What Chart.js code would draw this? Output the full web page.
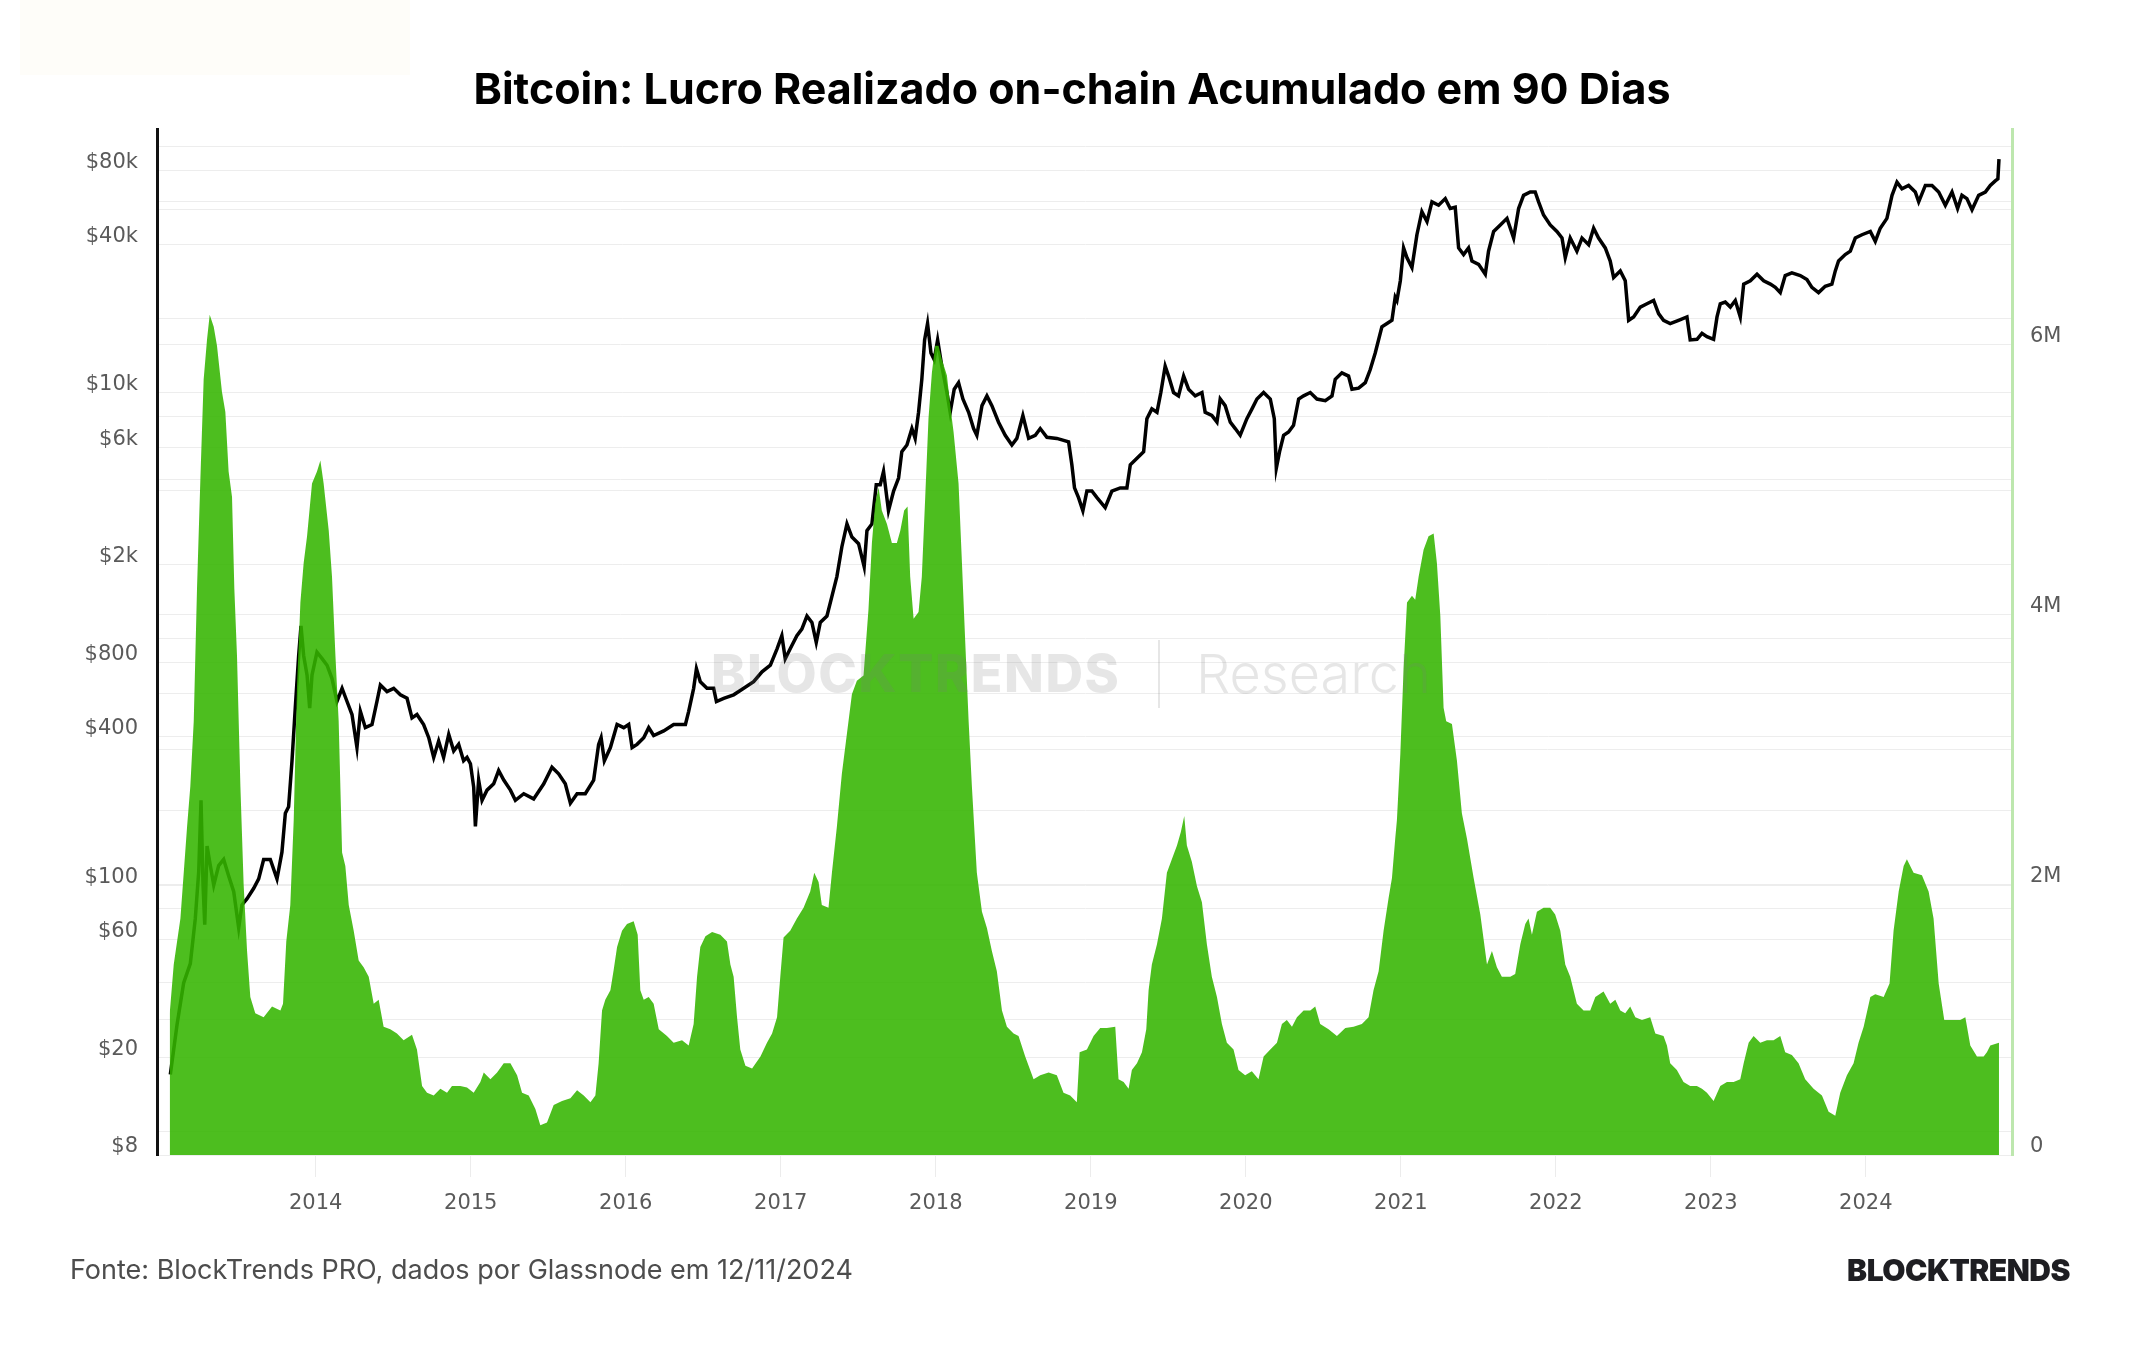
<!DOCTYPE html>
<html>
<head>
<meta charset="utf-8">
<script src="https://cdn.jsdelivr.net/npm/chart.js@4.4.1/dist/chart.umd.min.js"></script>
<style>
html,body{margin:0;padding:0;background:#fff;}
#wrap{position:relative;width:2144px;height:1350px;overflow:hidden;background:#fff;}
#tint{position:absolute;left:20px;top:0;width:390px;height:75px;background:#fefdf9;}
#c{position:absolute;left:0;top:0;}
.wm{position:absolute;color:rgba(120,120,120,0.19);pointer-events:none;white-space:nowrap;font-family:Inter,"Noto Sans",sans-serif;line-height:60px;}
#wm1{left:711px;top:644px;font-size:52px;font-weight:800;letter-spacing:1.5px;}
#wmbar{position:absolute;left:1158px;top:640px;width:2px;height:68px;background:rgba(120,120,120,0.19);}
#wm2{left:1196px;top:644px;font-size:54px;font-weight:300;}
#foot{position:absolute;left:70px;top:1254px;font-family:Inter,"Noto Sans",sans-serif;font-size:27px;color:#4d4d4d;line-height:32px;white-space:nowrap;}
#brand{position:absolute;right:74px;top:1254px;font-family:Inter,"Noto Sans",sans-serif;font-size:30px;font-weight:900;color:#1e1e22;line-height:32px;letter-spacing:-0.5px;white-space:nowrap;}
</style>
</head>
<body>
<div id="wrap">
<div id="tint"></div>
<canvas id="c" width="2144" height="1350"></canvas>
<div class="wm" id="wm1">BLOCKTRENDS</div>
<div id="wmbar"></div>
<div class="wm" id="wm2">Research</div>
<div id="foot">Fonte: BlockTrends PRO, dados por Glassnode em 12/11/2024</div>
<div id="brand">BLOCKTRENDS</div>
</div>
<script>
const chartTitle = 'Bitcoin: Lucro Realizado on-chain Acumulado em 90 Dias';
const yearTicks = [2014,2015,2016,2017,2018,2019,2020,2021,2022,2023,2024];
const priceTickValues = [8,10,20,40,60,80,100,200,400,600,800,1000,2000,4000,6000,8000,10000,20000,40000,60000,80000,100000];
const priceTickLabels = {8:'$8',20:'$20',60:'$60',100:'$100',400:'$400',800:'$800',2000:'$2k',6000:'$6k',10000:'$10k',40000:'$40k',80000:'$80k'};
const profitTickValues = [0,1,2,3,4,5,6,7];
const profitTickLabels = {0:'0',2:'2M',4:'4M',6:'6M'};

// BTC price (USD), decimal year
const priceYears = [2013.062,2013.105,2013.148,2013.191,2013.223,2013.245,2013.260,2013.273,2013.284,2013.299,2013.320,2013.342,2013.374,2013.406,2013.438,2013.471,2013.503,2013.524,2013.557,2013.600,2013.632,2013.664,2013.707,2013.750,2013.782,2013.804,2013.825,2013.847,2013.868,2013.890,2013.905,2013.922,2013.944,2013.961,2013.976,2014.008,2014.041,2014.073,2014.105,2014.137,2014.170,2014.202,2014.234,2014.266,2014.288,2014.320,2014.363,2014.395,2014.417,2014.460,2014.503,2014.546,2014.589,2014.621,2014.653,2014.696,2014.729,2014.761,2014.793,2014.825,2014.858,2014.890,2014.922,2014.954,2014.976,2014.998,2015.019,2015.030,2015.051,2015.073,2015.105,2015.148,2015.180,2015.213,2015.256,2015.288,2015.342,2015.406,2015.471,2015.524,2015.567,2015.610,2015.643,2015.686,2015.739,2015.793,2015.825,2015.841,2015.862,2015.901,2015.944,2015.987,2016.019,2016.041,2016.073,2016.116,2016.148,2016.180,2016.245,2016.309,2016.385,2016.406,2016.438,2016.456,2016.481,2016.524,2016.567,2016.585,2016.632,2016.696,2016.761,2016.825,2016.879,2016.933,2016.976,2017.007,2017.029,2017.061,2017.104,2017.136,2017.169,2017.201,2017.229,2017.255,2017.298,2017.330,2017.362,2017.394,2017.427,2017.459,2017.502,2017.538,2017.556,2017.588,2017.616,2017.642,2017.663,2017.695,2017.728,2017.760,2017.781,2017.814,2017.846,2017.867,2017.889,2017.910,2017.928,2017.947,2017.969,2017.990,2018.012,2018.039,2018.072,2018.093,2018.119,2018.147,2018.175,2018.212,2018.244,2018.265,2018.298,2018.330,2018.362,2018.405,2018.448,2018.491,2018.523,2018.562,2018.599,2018.642,2018.674,2018.717,2018.781,2018.857,2018.878,2018.895,2018.921,2018.949,2018.975,2019.007,2019.040,2019.093,2019.136,2019.190,2019.233,2019.255,2019.298,2019.341,2019.362,2019.394,2019.427,2019.452,2019.480,2019.502,2019.534,2019.566,2019.599,2019.631,2019.674,2019.717,2019.738,2019.781,2019.814,2019.835,2019.867,2019.900,2019.932,2019.964,2020.007,2020.040,2020.072,2020.115,2020.158,2020.184,2020.197,2020.218,2020.244,2020.276,2020.308,2020.341,2020.373,2020.416,2020.459,2020.513,2020.556,2020.577,2020.620,2020.663,2020.685,2020.728,2020.771,2020.803,2020.835,2020.878,2020.911,2020.943,2020.964,2020.975,2020.997,2021.018,2021.040,2021.072,2021.104,2021.136,2021.169,2021.201,2021.244,2021.287,2021.319,2021.351,2021.373,2021.405,2021.437,2021.459,2021.502,2021.545,2021.566,2021.599,2021.642,2021.685,2021.728,2021.760,2021.792,2021.835,2021.867,2021.889,2021.921,2021.964,2022.007,2022.040,2022.061,2022.093,2022.136,2022.169,2022.212,2022.244,2022.276,2022.319,2022.351,2022.373,2022.416,2022.448,2022.470,2022.502,2022.545,2022.588,2022.631,2022.663,2022.695,2022.738,2022.792,2022.846,2022.867,2022.911,2022.943,2022.975,2023.018,2023.040,2023.061,2023.093,2023.126,2023.158,2023.190,2023.212,2023.255,2023.298,2023.341,2023.384,2023.416,2023.448,2023.480,2023.523,2023.577,2023.620,2023.652,2023.695,2023.738,2023.781,2023.803,2023.824,2023.867,2023.900,2023.932,2023.975,2024.029,2024.061,2024.093,2024.136,2024.169,2024.201,2024.233,2024.276,2024.319,2024.341,2024.384,2024.427,2024.470,2024.513,2024.556,2024.592,2024.620,2024.652,2024.685,2024.728,2024.771,2024.803,2024.835,2024.852,2024.859];
const priceUSD = [17,27,40,48,73,113,221,100,69,144,120,100,120,127,109,94,67,83,88,97,106,127,127,106,136,196,208,320,524,857,1130,857,713,524,713,883,832,782,690,557,630,557,493,362,508,436,449,557,650,611,630,593,574,478,493,449,397,330,385,330,409,351,373,320,330,311,250,173,267,221,243,258,292,267,243,221,235,224,258,301,283,258,215,235,235,267,373,397,320,362,449,436,449,362,373,397,436,405,423,449,449,508,630,757,670,630,630,557,574,593,630,670,735,782,912,1031,831,912,1031,1096,1239,1167,968,1167,1239,1490,1792,2364,2933,2594,2438,1967,2755,2933,4236,4236,4797,3319,3990,4508,5768,6138,7161,6531,8340,11350,16400,19140,14520,13650,16400,12830,10030,8340,10350,11000,9440,8340,7160,6725,8870,9720,8870,7600,6725,6138,6531,8090,6531,6725,7160,6600,6530,6320,5100,4110,3750,3320,3990,3990,3750,3420,3990,4110,4110,5100,5420,5770,7850,8610,8340,10030,12830,11700,10030,9720,11700,10350,9720,10030,8340,8090,7600,9440,8870,7600,7160,6725,7850,8610,9440,10030,9440,7850,4945,5770,6725,6935,7380,9440,9720,10030,9440,9300,9720,11350,12060,11700,10350,10450,11000,12440,14520,18540,19140,19720,24470,23730,28530,38800,35400,32280,43900,54450,49650,59700,57850,61550,56100,56800,38800,36480,38800,34320,33270,30340,37630,45280,48120,51170,42560,56100,63470,65460,65460,59700,52790,48120,45280,42560,35400,42560,37630,42560,40020,46670,42560,38800,34320,29420,31290,28530,19720,20350,22310,23010,23730,20980,19720,19130,19720,20350,16400,16500,17450,16920,16500,20350,23010,23400,22310,23730,20350,27670,28530,30340,28530,27670,26840,25550,29980,30710,29980,28880,26840,25550,27120,27670,31290,34320,36480,37630,42560,43900,45280,41270,46670,51170,63470,71780,67500,69620,65460,59700,69620,69620,65460,57850,65460,56100,63470,61550,55420,63470,65460,69620,72670,74020,89000];

// 90-day cumulative realized profit (USD millions), decimal year
const profitYears = [2013.058,2013.084,2013.127,2013.170,2013.191,2013.213,2013.234,2013.256,2013.277,2013.299,2013.316,2013.342,2013.363,2013.395,2013.417,2013.438,2013.460,2013.475,2013.492,2013.514,2013.535,2013.557,2013.578,2013.610,2013.664,2013.718,2013.772,2013.789,2013.810,2013.836,2013.858,2013.879,2013.901,2013.922,2013.944,2013.976,2014.008,2014.030,2014.051,2014.084,2014.105,2014.127,2014.148,2014.170,2014.191,2014.213,2014.245,2014.277,2014.309,2014.342,2014.374,2014.406,2014.438,2014.481,2014.524,2014.567,2014.621,2014.653,2014.686,2014.718,2014.761,2014.804,2014.847,2014.879,2014.933,2014.976,2015.019,2015.062,2015.084,2015.127,2015.170,2015.213,2015.256,2015.299,2015.331,2015.374,2015.417,2015.449,2015.492,2015.535,2015.589,2015.643,2015.686,2015.729,2015.772,2015.804,2015.825,2015.847,2015.868,2015.901,2015.922,2015.944,2015.976,2016.008,2016.051,2016.077,2016.094,2016.116,2016.148,2016.180,2016.213,2016.266,2016.309,2016.363,2016.406,2016.438,2016.460,2016.481,2016.514,2016.557,2016.610,2016.653,2016.675,2016.696,2016.718,2016.739,2016.772,2016.815,2016.869,2016.911,2016.944,2016.976,2016.997,2017.018,2017.061,2017.104,2017.147,2017.190,2017.216,2017.244,2017.265,2017.308,2017.330,2017.362,2017.394,2017.427,2017.459,2017.491,2017.534,2017.566,2017.588,2017.609,2017.631,2017.652,2017.685,2017.717,2017.749,2017.771,2017.796,2017.818,2017.835,2017.857,2017.889,2017.910,2017.932,2017.953,2017.975,2017.996,2018.018,2018.039,2018.072,2018.093,2018.115,2018.147,2018.169,2018.190,2018.212,2018.233,2018.265,2018.298,2018.330,2018.362,2018.394,2018.427,2018.459,2018.502,2018.534,2018.577,2018.631,2018.674,2018.728,2018.781,2018.824,2018.867,2018.910,2018.928,2018.975,2019.018,2019.061,2019.104,2019.158,2019.179,2019.212,2019.244,2019.265,2019.298,2019.330,2019.358,2019.373,2019.394,2019.427,2019.459,2019.491,2019.523,2019.556,2019.581,2019.603,2019.620,2019.652,2019.685,2019.717,2019.749,2019.781,2019.814,2019.846,2019.878,2019.921,2019.953,2019.996,2020.039,2020.082,2020.115,2020.158,2020.201,2020.233,2020.265,2020.298,2020.330,2020.373,2020.416,2020.448,2020.480,2020.534,2020.588,2020.642,2020.695,2020.749,2020.792,2020.824,2020.857,2020.889,2020.921,2020.943,2020.964,2020.975,2020.997,2021.018,2021.040,2021.072,2021.093,2021.115,2021.147,2021.179,2021.212,2021.233,2021.255,2021.276,2021.293,2021.330,2021.362,2021.394,2021.427,2021.470,2021.513,2021.556,2021.588,2021.620,2021.652,2021.706,2021.738,2021.771,2021.803,2021.824,2021.846,2021.878,2021.921,2021.964,2021.996,2022.029,2022.061,2022.093,2022.136,2022.179,2022.222,2022.255,2022.308,2022.351,2022.384,2022.416,2022.448,2022.480,2022.513,2022.556,2022.609,2022.642,2022.695,2022.717,2022.738,2022.781,2022.824,2022.867,2022.910,2022.943,2022.975,2023.018,2023.061,2023.104,2023.147,2023.190,2023.212,2023.244,2023.276,2023.319,2023.362,2023.405,2023.448,2023.480,2023.523,2023.566,2023.609,2023.663,2023.717,2023.760,2023.803,2023.835,2023.878,2023.921,2023.953,2023.986,2024.029,2024.061,2024.115,2024.153,2024.179,2024.212,2024.244,2024.265,2024.308,2024.362,2024.405,2024.437,2024.470,2024.506,2024.556,2024.609,2024.642,2024.674,2024.717,2024.760,2024.781,2024.803,2024.859];
const profitM = [1.05,1.41,1.75,2.43,2.73,3.21,4.19,5.01,5.74,6.04,6.22,6.13,5.99,5.65,5.50,5.06,4.87,4.19,3.70,2.73,2.00,1.51,1.17,1.05,1.02,1.10,1.07,1.12,1.58,1.85,2.48,3.46,4.09,4.38,4.58,4.97,5.06,5.14,4.97,4.62,4.28,3.70,3.21,2.24,2.14,1.85,1.66,1.44,1.39,1.32,1.12,1.15,0.95,0.93,0.90,0.85,0.89,0.78,0.51,0.46,0.44,0.49,0.46,0.51,0.51,0.50,0.46,0.54,0.61,0.56,0.61,0.68,0.68,0.59,0.46,0.44,0.34,0.22,0.24,0.37,0.40,0.42,0.48,0.44,0.39,0.44,0.68,1.07,1.15,1.22,1.37,1.54,1.66,1.71,1.73,1.63,1.22,1.15,1.17,1.12,0.93,0.88,0.83,0.85,0.81,0.97,1.32,1.54,1.62,1.65,1.63,1.58,1.41,1.32,1.02,0.78,0.66,0.64,0.73,0.83,0.90,1.02,1.32,1.61,1.66,1.75,1.83,1.95,2.09,2.02,1.85,1.83,2.09,2.43,2.82,3.12,3.41,3.51,3.55,4.04,4.53,4.82,4.94,4.77,4.67,4.53,4.53,4.62,4.77,4.80,4.28,3.97,4.02,4.28,4.87,5.45,5.79,5.99,5.99,5.89,5.77,5.55,5.35,4.97,4.38,3.80,3.21,2.73,2.09,1.80,1.68,1.51,1.36,1.07,0.95,0.90,0.88,0.73,0.56,0.59,0.61,0.59,0.46,0.44,0.39,0.76,0.78,0.88,0.94,0.94,0.95,0.56,0.54,0.49,0.63,0.68,0.76,0.93,1.22,1.41,1.56,1.75,2.09,2.19,2.29,2.39,2.51,2.29,2.17,1.99,1.87,1.56,1.32,1.17,0.97,0.83,0.78,0.63,0.59,0.62,0.56,0.73,0.78,0.83,0.97,1.00,0.95,1.02,1.07,1.07,1.10,0.97,0.93,0.88,0.94,0.95,0.97,1.02,1.22,1.36,1.66,1.90,2.05,2.34,2.48,2.97,3.60,4.09,4.14,4.11,4.28,4.48,4.58,4.60,4.38,3.99,3.31,3.21,3.19,2.92,2.53,2.34,2.05,1.78,1.41,1.51,1.39,1.32,1.32,1.34,1.56,1.71,1.75,1.63,1.80,1.83,1.83,1.78,1.66,1.41,1.32,1.12,1.07,1.07,1.17,1.21,1.12,1.15,1.07,1.05,1.10,1.02,1.00,1.02,0.90,0.88,0.81,0.68,0.63,0.54,0.51,0.51,0.49,0.46,0.40,0.51,0.54,0.54,0.56,0.68,0.83,0.88,0.83,0.85,0.85,0.88,0.76,0.74,0.68,0.56,0.49,0.44,0.32,0.29,0.46,0.59,0.68,0.83,0.95,1.17,1.19,1.17,1.27,1.66,1.95,2.14,2.19,2.09,2.07,1.95,1.75,1.27,1.00,1.00,1.00,1.02,0.81,0.73,0.73,0.76,0.81,0.83];

const priceData = priceYears.map((x,i)=>({x:x, y:priceUSD[i]}));
const profitData = profitYears.map((x,i)=>({x:x, y:profitM[i]}));

const tickFont = {family:'"DejaVu Sans", Verdana, sans-serif', size:21};
const tickColor = '#5a5a5a';
const gridColor = '#ededed';
const greenFill = 'rgba(52,181,0,0.88)';

new Chart(document.getElementById('c'), {
  type:'line',
  data:{
    datasets:[
      {label:'Lucro realizado 90d', data:profitData, yAxisID:'y1', borderWidth:0, borderColor:greenFill,
       backgroundColor:greenFill, fill:'origin', pointRadius:0, tension:0},
      {label:'Preço BTC', data:priceData, yAxisID:'y', borderColor:'#000', borderWidth:3.5, pointRadius:0, tension:0, fill:false}
    ]
  },
  options:{
    responsive:false, animation:false, devicePixelRatio:1,
    layout:{padding:{left:0,right:0,top:0,bottom:135}},
    plugins:{
      legend:{display:false}, tooltip:{enabled:false},
      title:{display:true, text:chartTitle, color:'#000', font:{family:'Inter, "Noto Sans", sans-serif', size:43, weight:'bold', lineHeight:1.2}, padding:{top:65,bottom:13}}
    },
    scales:{
      x:{type:'linear', min:2012.976, max:2024.943,
         afterBuildTicks:(s)=>{s.ticks = yearTicks.map(v=>({value:v}));},
         afterFit:(s)=>{s.height = 60;},
         grid:{drawOnChartArea:false, drawTicks:true, tickLength:22, color:'#ececec'},
         border:{display:false},
         ticks:{autoSkip:false, maxRotation:0, padding:14, color:tickColor, font:tickFont, callback:(v)=>String(v)}},
      y:{type:'logarithmic', position:'left', min:8, max:117400,
         afterBuildTicks:(s)=>{s.ticks = priceTickValues.map(v=>({value:v}));},
         afterFit:(s)=>{s.width = 157;},
         grid:{color:gridColor, drawTicks:false},
         border:{display:true, color:'#111', width:3},
         ticks:{autoSkip:false, padding:19, labelOffset:-8, color:tickColor, font:tickFont, callback:(v)=>priceTickLabels[v]||''}},
      y1:{type:'linear', position:'right', min:0, max:7.59,
         afterBuildTicks:(s)=>{s.ticks = profitTickValues.map(v=>({value:v}));},
         afterFit:(s)=>{s.width = 132;},
         grid:{color:gridColor, drawTicks:false},
         border:{display:true, color:'#bde7ae', width:3},
         ticks:{autoSkip:false, padding:18, labelOffset:-8, color:tickColor, font:tickFont, callback:(v)=>(profitTickLabels[v]!==undefined?profitTickLabels[v]:'')}}
    }
  }
});
</script>
</body>
</html>
